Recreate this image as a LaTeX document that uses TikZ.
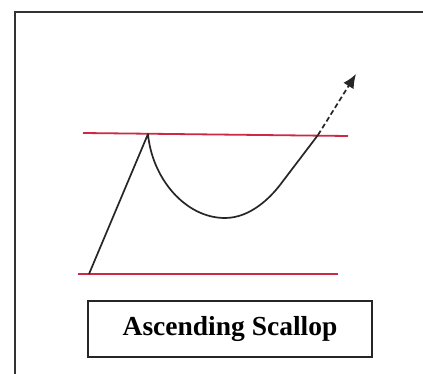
\documentclass[tikz,border=0pt]{standalone}
\usepackage{fontspec}
\setmainfont{Liberation Serif}
\usetikzlibrary{arrows.meta}
\definecolor{resline}{RGB}{205,40,70}
\tikzset{
  redline/.style={draw=resline, line width=1.8pt},
  price/.style={draw=black!85, line width=1.7pt},
  labelbox/.style={draw=black!85, line width=1.7pt, minimum width=284pt, minimum height=56pt, inner sep=0pt, font=\bfseries\fontsize{27.5}{32}\selectfont}
}
\begin{document}
\begin{tikzpicture}[x=1pt,y=-1pt]
\useasboundingbox (0,0) rectangle (423,374);
\fill[white] (0,0) rectangle (423,374);
\begin{scope}
\clip (0,0) rectangle (423,374);
\draw[line width=1.8pt, black!80] (15,12) rectangle (440,390);
\end{scope}
% support / resistance
\coordinate (r1) at (83,133);
\coordinate (r2) at (348,136);
\coordinate (s1) at (78,274);
\coordinate (s2) at (338,274);
\draw[redline] (r1) -- (r2);
\draw[redline] (s1) -- (s2);
% price path
\coordinate (start) at (89,274);
\coordinate (peak) at (148,134);
\coordinate (bottom) at (225,218);
\coordinate (bend) at (280,185);
\coordinate (brk) at (318,135);
\coordinate (tgt) at (356,74);
\draw[price, line join=round] (start) -- (peak)
  .. controls (152,178) and (185,218) .. (bottom)
  .. controls (250,218) and (270,198) .. (bend) -- (brk);
\draw[price, dashed, dash pattern=on 5pt off 3pt, -{Latex[length=14pt,width=12pt]}] (brk) -- (tgt);
% label
\node[labelbox] (lbl) at (230,329) {Ascending Scallop};
\end{tikzpicture}
\end{document}
